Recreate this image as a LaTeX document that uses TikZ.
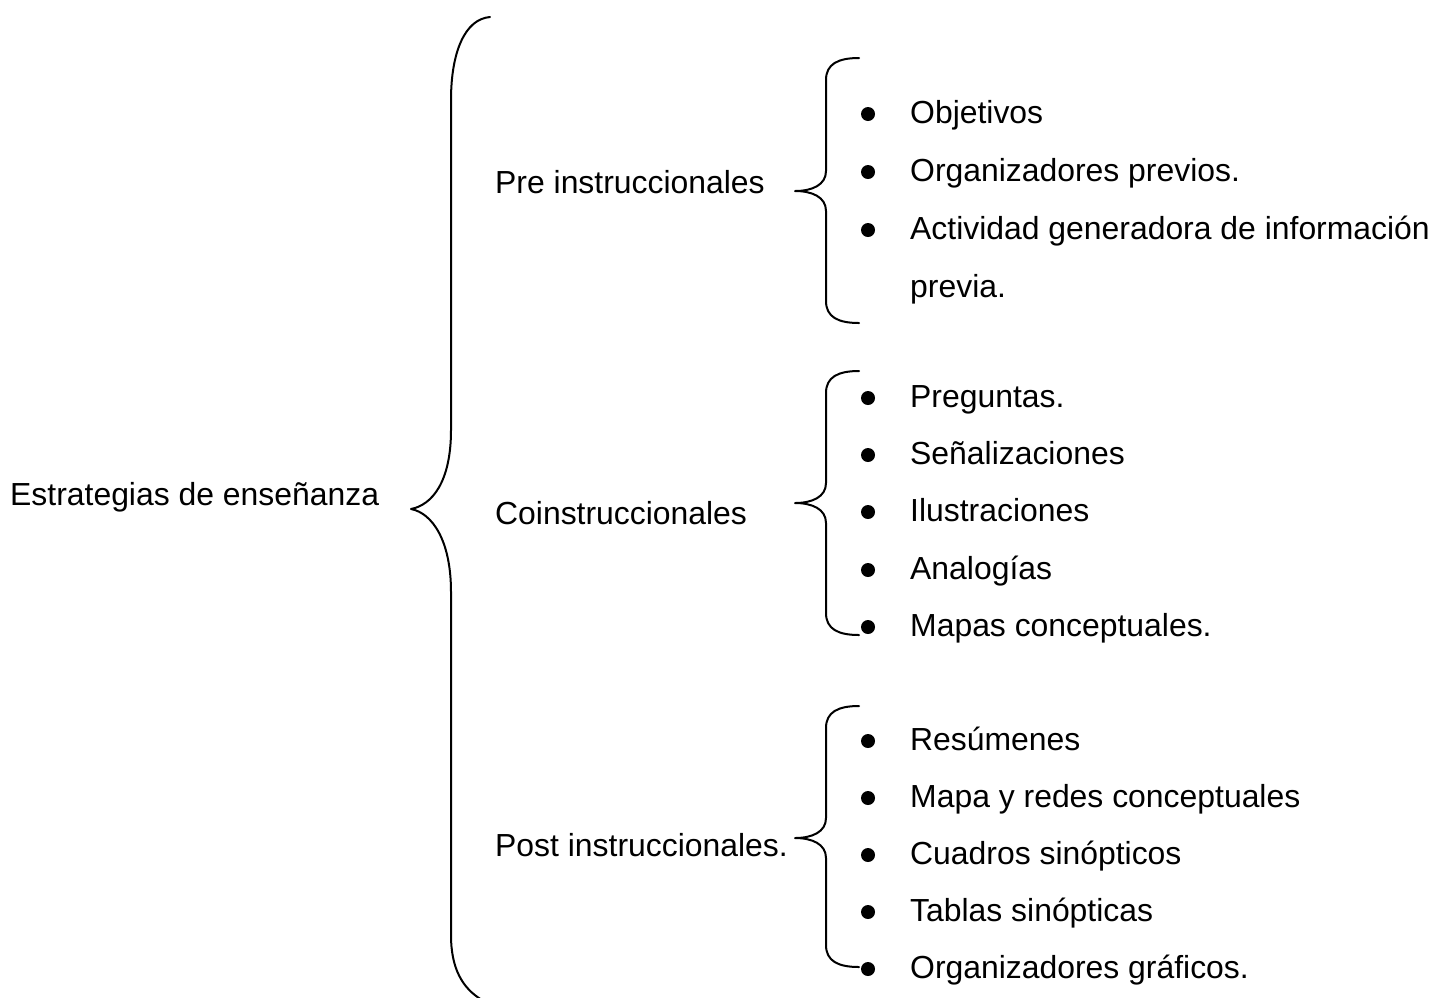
\documentclass[tikz,border=0pt]{standalone}
\usepackage{fontspec}
\setmainfont{Liberation Sans}
\begin{document}
\begin{tikzpicture}[x=1pt,y=-1pt,
  txt/.style={anchor=base west,inner sep=0pt,font=\fontsize{31.9}{36}\selectfont},
  brace/.style={line width=2pt,line cap=round,line join=round},
  dot/.style={circle,fill=black,inner sep=0pt,outer sep=0pt,minimum size=14pt}]
\useasboundingbox (0,0) rectangle (1434,997);
% big brace
\draw[brace] (490,17) .. controls (465,19) and (451,52) .. (451,100) -- (451,430)
  .. controls (451,482) and (432,505) .. (411,509)
  .. controls (432,513) and (451,540) .. (451,592) -- (451,935)
  .. controls (451,968) and (462,988) .. (482,1000);
% small braces: top y, tip y, bottom y
\newcommand\mybrace[3]{%
  \draw[brace] (859,#1) .. controls (838,#1) and (826,{#1+6}) .. (826,{#1+22})
   -- (826,{#2-20}) .. controls (826,{#2-6}) and (812,#2) .. (795,#2)
   .. controls (812,#2) and (826,{#2+6}) .. (826,{#2+20})
   -- (826,{#3-22}) .. controls (826,{#3-6}) and (838,#3) .. (859,#3);}
\mybrace{58}{191}{323}
\mybrace{371}{503}{635}
\mybrace{706}{838}{967}
% labels
\node[txt] (root) at (10,505) {Estrategias de enseñanza};
\node[txt] (pre) at (495,193) {Pre instruccionales};
\node[txt] (co) at (495,524) {Coinstruccionales};
\node[txt] (post) at (495,856) {Post instruccionales.};
% items
\foreach \n/\y/\t in {a1/123/Objetivos, a2/181/Organizadores previos., a3/239/Actividad generadora de información,
  b1/407/Preguntas., b2/464/Señalizaciones, b3/521/Ilustraciones, b4/579/Analogías, b5/636/Mapas conceptuales.,
  c1/750/Resúmenes, c2/807/Mapa y redes conceptuales, c3/864/Cuadros sinópticos, c4/921/Tablas sinópticas, c5/978/Organizadores gráficos.}{
  \node[txt] (\n) at (910,\y) {\t};
  \node[dot] (d\n) at (868,{\y-9}) {};
}
\node[txt] (a4) at (910,297) {previa.};
\end{tikzpicture}
\end{document}
